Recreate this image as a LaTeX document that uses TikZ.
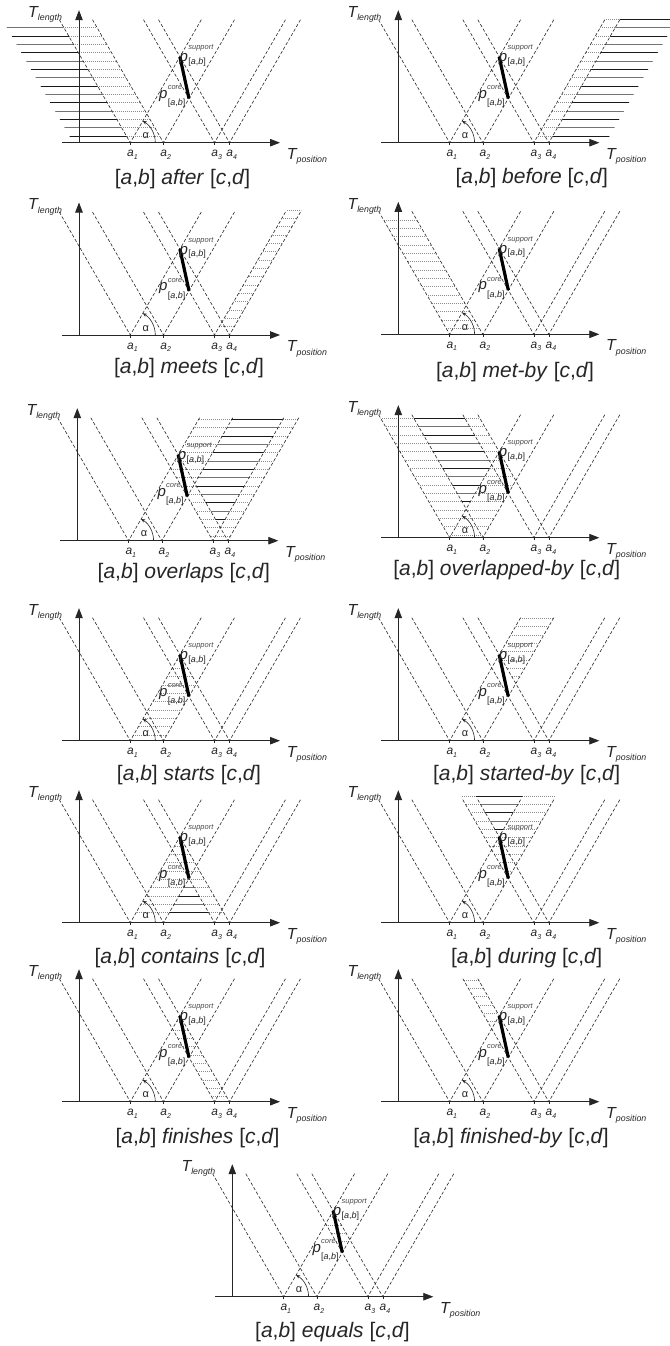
\documentclass[tikz,border=0pt]{standalone}
\usepackage{fontspec}
\setmainfont{Liberation Sans}
\usetikzlibrary{arrows.meta}
\def\tn{1.7320508}
\def\aA{51.3}\def\aB{84.5}\def\aC{135.5}\def\aD{150.5}
\def\hs{8.33}
\tikzset{
  guide/.style={draw=black!85, line width=0.6pt, dash pattern=on 3.2pt off 2pt},
  hdot/.style={draw=black!45, line width=0.6pt, dash pattern=on 0.8pt off 1.2pt},
  hsolA/.style={draw=black!90, line width=0.9pt},
  hsolB/.style={draw=black!55, line width=0.9pt},
  axisline/.style={draw=black!85, line width=0.85pt},
  thickp/.style={draw=black, line width=3.2pt},
  lbl/.style={inner sep=0pt, text=black!85},
}
\newcommand\rU[1]{\clip ({#1-10/\tn},-10) -- ({#1+140/\tn},140) -- (420,140) -- (420,-10) -- cycle;}
\newcommand\lU[1]{\clip ({#1-10/\tn},-10) -- ({#1+140/\tn},140) -- (-220,140) -- (-220,-10) -- cycle;}
\newcommand\rD[1]{\clip ({#1+10/\tn},-10) -- ({#1-140/\tn},140) -- (420,140) -- (420,-10) -- cycle;}
\newcommand\lD[1]{\clip ({#1+10/\tn},-10) -- ({#1-140/\tn},140) -- (-220,140) -- (-220,-10) -- cycle;}
\newcommand\dotl[2]{\foreach \k in {0,...,#2}{\draw[hdot] (-220,{#1+\hs*\k}) -- (420,{#1+\hs*\k});}}
\newcommand\soll[2]{\foreach \k in {0,...,#2}{\pgfmathtruncatemacro\kodd{mod(\k,2)}%
  \ifnum\kodd=0 \draw[hsolA] (-220,{#1+\hs*\k}) -- (420,{#1+\hs*\k});%
  \else \draw[hsolB] (-220,{#1+\hs*\k}) -- (420,{#1+\hs*\k});\fi}}
\newcommand\Tbig{\fontsize{16}{16}\selectfont\itshape}
\newcommand\Tsub{\fontsize{8.8}{9}\selectfont\itshape}
\newcommand\abig{\fontsize{12}{12}\selectfont\itshape}
\newcommand\asub{\fontsize{7}{7}\selectfont\itshape}
\newcommand\pbig{\fontsize{15}{15}\selectfont\itshape}
\newcommand\psup{\fontsize{7.5}{8}\selectfont\itshape}
\newcommand\psub{\fontsize{9}{9}\selectfont}
\newcommand\guides[1]{%
  \foreach \aa/\nn in {\aA/1,\aB/2,\aC/3,\aD/4}{%
    \coordinate (#1b\nn) at (\aa,0);
    \coordinate (#1l\nn) at ({\aa-71},123);
    \coordinate (#1r\nn) at ({\aa+71},123);
    \draw[guide] (#1l\nn) -- (#1b\nn) -- (#1r\nn);
    \coordinate (#1t\nn) at (\aa,-2.5);
    \draw[black!85, line width=0.6pt] (#1b\nn) -- (#1t\nn);
  }}
\newcommand\panel[7]{%
\begin{scope}[shift={(#2,-#3)}]
  #7
  \guides{#1}
  \coordinate (#1xs) at (-17,0);
  \coordinate (#1xe) at (201,0);
  \coordinate (#1ys) at (0,0);
  \coordinate (#1ye) at (0,132.5);
  \draw[axisline,-{Triangle[length=10pt,width=7.5pt]}] (#1xs) -- (#1xe);
  \draw[axisline,-{Triangle[length=10pt,width=7.5pt]}] (#1ys) -- (#1ye);
  \coordinate (#1arc) at ({\aA+25},0);
  \draw[black!85, line width=0.6pt, -{Stealth[length=4pt,width=3.5pt]}] (#1arc) arc[start angle=0, end angle=60, radius=25];
  \coordinate (#1ps) at (100.9,85.9);
  \coordinate (#1pc) at (110,44.2);
  \draw[thickp] (#1ps) -- (#1pc);
  \node[lbl, anchor=base west] (#1tl) at (-51,125.3) {{\Tbig T}\raisebox{-3.5pt}{\Tsub length}};
  \node[lbl, anchor=base west] (#1tp) at (207.7,-16.5) {{\Tbig T}\raisebox{-3.5pt}{\Tsub position}};
  \node[lbl, anchor=base west] (#1a1) at ({\aA-3.3},-14) {{\abig a}\raisebox{-2.5pt}{\asub 1}};
  \node[lbl, anchor=base west] (#1a2) at ({\aB-3.3},-14) {{\abig a}\raisebox{-2.5pt}{\asub 2}};
  \node[lbl, anchor=base west] (#1a3) at ({\aC-3.3},-14) {{\abig a}\raisebox{-2.5pt}{\asub 3}};
  \node[lbl, anchor=base west] (#1a4) at ({\aD-3.3},-14) {{\abig a}\raisebox{-2.5pt}{\asub 4}};
  \node[lbl, font=\fontsize{11}{11}\selectfont] (#1al) at ({\aA+15.4},6.7) {α};
  \node[lbl, anchor=base west] (#1sp) at (100.4,80.8) {\pbig p};
  \node[lbl, anchor=base west, text=black!70] (#1ss) at (109.2,93) {\psup support};
  \node[lbl, anchor=base west] (#1sb) at (109.2,78.5) {\psub[\textit{a},\textit{b}]};
  \node[lbl, anchor=base west] (#1cp) at (80,44.4) {\pbig p};
  \node[lbl, anchor=base west, text=black!70] (#1cs) at (88.6,52.8) {\psup core};
  \node[lbl, anchor=base west] (#1cb) at (88.6,37) {\psub[\textit{a},\textit{b}]};
  \node[lbl, font=\fontsize{21}{24}\selectfont] (#1cap) at (#5,-#6) {[\textit{a},\textit{b}] \textit{#4} [\textit{c},\textit{d}]};
\end{scope}}
\begin{document}
\begin{tikzpicture}[x=1pt,y=1pt]
\useasboundingbox (0,0) rectangle (669,-1346);
\fill[white] (0,0) rectangle (669,-1346);
\panel{pa}{79}{142.7}{after}{103.5}{36.3}{%
  \begin{scope}\lD{\aA}\rD{\aA-57}\soll{6.7}{13}\end{scope}
  \begin{scope}\rD{\aA}\lD{\aB}\dotl{6.7}{13}\end{scope}}
\panel{pb}{398.3}{142.7}{before}{133.4}{35.3}{%
  \begin{scope}\rU{\aD}\lU{\aD+57}\soll{6.7}{14}\end{scope}
  \begin{scope}\rU{\aC}\lU{\aD}\dotl{6.7}{14}\end{scope}}
\panel{pc}{79}{335}{meets}{110}{33}{%
  \begin{scope}\rU{\aC}\lU{\aD}\dotl{8.3}{14}\end{scope}}
\panel{pd}{398.3}{334.3}{met-by}{116.7}{37.4}{%
  \begin{scope}\rD{\aA}\lD{\aB}\dotl{6}{13}\end{scope}}
\panel{pe}{77.3}{540.7}{overlaps}{106.5}{32.3}{%
  \begin{scope}\rU{\aA}\rD{\aC}\lU{\aD}\dotl{4.7}{14}\end{scope}
  \begin{scope}\rU{\aB}\rD{\aD}\lU{\aC}\soll{4.7}{14}\end{scope}}
\panel{pf}{398.3}{537.7}{overlapped-by}{108.4}{32.3}{%
  \begin{scope}\lD{\aD}\lU{\aB}\rD{\aA}\dotl{2.7}{14}\end{scope}
  \begin{scope}\lD{\aC}\lU{\aA}\rD{\aB}\soll{2.7}{14}\end{scope}}
\panel{pg}{79}{740.7}{starts}{110}{34.3}{%
  \begin{scope}\rU{\aA}\lU{\aB}\lD{\aD}\dotl{5.7}{14}\end{scope}}
\panel{ph}{398.3}{740.7}{started-by}{128.4}{34.3}{%
  \begin{scope}\rU{\aA}\lU{\aB}\rD{\aD}\dotl{5.7}{14}\end{scope}}
\panel{pi}{79}{922.7}{contains}{101}{35.3}{%
  \begin{scope}\rU{\aA}\lD{\aD}\dotl{10}{9}\end{scope}
  \begin{scope}\rU{\aB}\lD{\aC}\soll{10}{9}\end{scope}}
\panel{pj}{398.3}{922.7}{during}{128.4}{35.3}{%
  \begin{scope}\lU{\aB}\rD{\aC}\dotl{10}{14}\end{scope}
  \begin{scope}\lU{\aA}\rD{\aD}\soll{10}{14}\end{scope}}
\panel{pk}{79}{1101.7}{finishes}{118.5}{36.3}{%
  \begin{scope}\rD{\aC}\lD{\aD}\rU{\aA}\dotl{5}{14}\end{scope}}
\panel{pl}{398.3}{1101.7}{finished-by}{112.7}{36.3}{%
  \begin{scope}\rD{\aC}\lD{\aD}\lU{\aA}\dotl{5}{14}\end{scope}}
\panel{pm}{232.3}{1296.7}{equals}{100.2}{35}{%
  \begin{scope}\rU{\aA}\lU{\aB}\rD{\aC}\lD{\aD}\dotl{5}{14}\end{scope}}
\end{tikzpicture}
\end{document}
